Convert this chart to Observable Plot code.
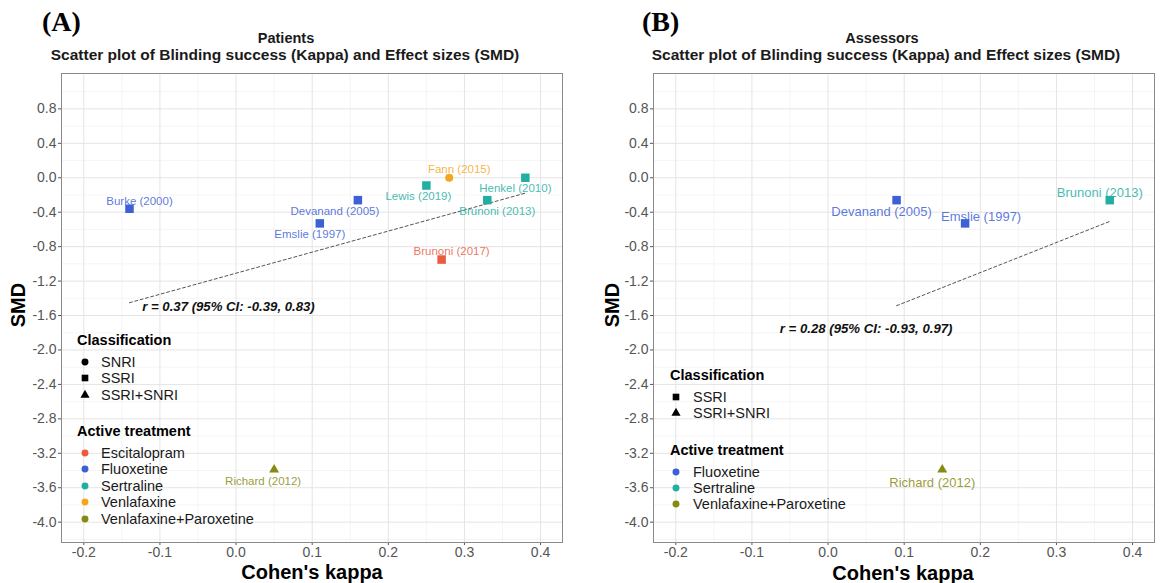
<!DOCTYPE html>
<html>
<head>
<meta charset="utf-8">
<script src="https://cdn.jsdelivr.net/npm/d3@7"></script>
<script src="https://cdn.jsdelivr.net/npm/@observablehq/plot@0.6"></script>
<style>
  body { margin: 0; background: #fff; font-family: "Liberation Sans", Arial, sans-serif; }
  #root { position: relative; width: 1171px; height: 583px; overflow: hidden; background: #fff; }
  .abs { position: absolute; white-space: nowrap; }
  .panelTag { font-family: "Liberation Serif", "Times New Roman", serif; font-weight: bold; font-size: 28px; line-height: 28px; color: #000; }
  .ttl { font-weight: bold; font-size: 14.5px; line-height: 16px; color: #1a1a1a; transform: translateX(-50%); }
  .sub { font-weight: bold; font-size: 15.5px; line-height: 16px; color: #1a1a1a; transform: translateX(-50%); }
  .axTitle { font-weight: bold; font-size: 20px; line-height: 22px; color: #000; transform: translate(-50%, -50%); }
  .axTitleY { font-weight: bold; font-size: 20px; line-height: 22px; color: #000; transform: translate(-50%, -50%) rotate(-90deg); }
  .lgTitle { font-weight: bold; font-size: 14.5px; line-height: 16px; color: #000; }
  .lgItem { font-size: 14.5px; line-height: 16px; color: #1a1a1a; }
</style>
</head>
<body>
<div id="root"></div>
<script>
// ---------------- data ----------------
const treatments = ["Escitalopram", "Fluoxetine", "Sertraline", "Venlafaxine", "Venlafaxine+Paroxetine"];
const treatmentColors = ["#EC5B3F", "#3D60D6", "#22AFA2", "#F6A61E", "#878A10"];
const classes = ["SNRI", "SSRI", "SSRI+SNRI"];

// Panel A: patients
const patientStudy = ["Burke (2000)", "Devanand (2005)", "Emslie (1997)", "Lewis (2019)", "Fann (2015)", "Henkel (2010)", "Brunoni (2013)", "Brunoni (2017)", "Richard (2012)"];
const patientKappa = [-0.14, 0.16, 0.11, 0.25, 0.28, 0.38, 0.33, 0.27, 0.05];
const patientSMD = [-0.36, -0.26, -0.53, -0.09, 0.00, 0.00, -0.26, -0.95, -3.39];
const patientTreatment = ["Fluoxetine", "Fluoxetine", "Fluoxetine", "Sertraline", "Venlafaxine", "Sertraline", "Sertraline", "Escitalopram", "Venlafaxine+Paroxetine"];
const patientClass = ["SSRI", "SSRI", "SSRI", "SSRI", "SNRI", "SSRI", "SSRI", "SSRI", "SSRI+SNRI"];

// Panel B: assessors
const assessorStudy = ["Devanand (2005)", "Emslie (1997)", "Brunoni (2013)", "Richard (2012)"];
const assessorKappa = [0.09, 0.18, 0.37, 0.15];
const assessorSMD = [-0.26, -0.53, -0.26, -3.39];
const assessorTreatment = ["Fluoxetine", "Fluoxetine", "Sertraline", "Venlafaxine+Paroxetine"];
const assessorClass = ["SSRI", "SSRI", "SSRI", "SSRI+SNRI"];

// correlation annotations (text + data-space anchor)
const corrText = ["r = 0.37 (95% CI: -0.39, 0.83)", "r = 0.28 (95% CI: -0.93, 0.97)"];
const corrKappa = [-0.01, 0.05];
const corrSMD = [-1.50, -1.75];

// axis ticks
const xTicks = [-0.2, -0.1, 0.0, 0.1, 0.2, 0.3, 0.4];
const xMinor = [-0.15, -0.05, 0.05, 0.15, 0.25, 0.35];
const yTicks = [0.8, 0.4, 0.0, -0.4, -0.8, -1.2, -1.6, -2.0, -2.4, -2.8, -3.2, -3.6, -4.0];
const yMinor = [1.0, 0.6, 0.2, -0.2, -0.6, -1.0, -1.4, -1.8, -2.2, -2.6, -3.0, -3.4, -3.8, -4.2];

// ---------------- layout / style config ----------------
const FONT = '"Liberation Sans", Arial, sans-serif';
const shapeOf = { "SNRI": ["circle", 4], "SSRI": ["square", 4.8], "SSRI+SNRI": ["triangle", 3.7] };
// label nudges in pixels (like ggrepel placement)
const nudgeA = {
  "Burke (2000)": [10, -7], "Devanand (2005)": [-23, 11], "Emslie (1997)": [-10, 11],
  "Lewis (2019)": [-8, 11], "Fann (2015)": [10, -8], "Henkel (2010)": [-10, 11],
  "Brunoni (2013)": [10, 11], "Brunoni (2017)": [10, -8], "Richard (2012)": [-11, 12]
};
const nudgeB = {
  "Devanand (2005)": [-15, 12], "Emslie (1997)": [16, -7], "Brunoni (2013)": [-10, -7], "Richard (2012)": [-10, 13]
};

function rowsOf(study, kappa, smd, trt, cls) {
  return study.map((s, i) => ({ study: s, kappa: kappa[i], smd: smd[i], treatment: trt[i], cls: cls[i] }));
}
const rowsA = rowsOf(patientStudy, patientKappa, patientSMD, patientTreatment, patientClass);
const rowsB = rowsOf(assessorStudy, assessorKappa, assessorSMD, assessorTreatment, assessorClass);

const fmt = d => d.toFixed(1);

function panel(rows, nudge, ann, width, marginRight, labelSize) {
  return Plot.plot({
    width, height: 583,
    marginTop: 73, marginBottom: 41, marginLeft: 61, marginRight,
    style: { fontFamily: FONT, background: "transparent", overflow: "visible" },
    x: { domain: [-0.2293, 0.4288] },
    y: { domain: [-4.236, 1.211] },
    color: { domain: treatments, range: treatmentColors },
    marks: [
      Plot.gridX(xMinor, { stroke: "#F1F1F1", strokeOpacity: 1, strokeWidth: 0.7 }),
      Plot.gridY(yMinor, { stroke: "#F1F1F1", strokeOpacity: 1, strokeWidth: 0.7 }),
      Plot.gridX(xTicks, { stroke: "#E4E4E4", strokeOpacity: 1, strokeWidth: 1 }),
      Plot.gridY(yTicks, { stroke: "#E4E4E4", strokeOpacity: 1, strokeWidth: 1 }),
      Plot.linearRegressionY(rows, { x: "kappa", y: "smd", ci: 0, stroke: "#555", strokeWidth: 1, strokeDasharray: "3,2.5" }),
      ...classes.map(c => Plot.dot(rows.filter(d => d.cls === c), {
        x: "kappa", y: "smd", fill: "treatment", symbol: shapeOf[c][0], r: shapeOf[c][1]
      })),
      ...rows.map(d => Plot.text([d], {
        x: "kappa", y: "smd", text: "study", fill: "treatment", fillOpacity: 0.85,
        fontSize: labelSize, dx: nudge[d.study][0], dy: nudge[d.study][1]
      })),
      Plot.text([ann], { x: "x", y: "y", text: "t", fontSize: 13.2, fontWeight: "bold", fontStyle: "italic", fill: "#111" }),
      Plot.axisX(xTicks, { tickFormat: fmt, tickSize: 3, tickPadding: 2, fontSize: 14, color: "#555", label: null }),
      Plot.axisY(yTicks, { tickFormat: fmt, tickSize: 3, tickPadding: 2, fontSize: 14, color: "#555", label: null }),
      Plot.frame({ stroke: "#8a8a8a" })
    ]
  });
}

const root = document.getElementById("root");
function addDiv(cls, text, left, top) {
  const d = document.createElement("div");
  d.className = "abs " + cls;
  d.textContent = text;
  d.style.left = left + "px";
  d.style.top = top + "px";
  root.appendChild(d);
  return d;
}

function symbolSvg(shape, color) {
  const ns = "http://www.w3.org/2000/svg";
  const s = document.createElementNS(ns, "svg");
  s.setAttribute("width", 12); s.setAttribute("height", 12);
  s.style.position = "absolute";
  const p = document.createElementNS(ns, "path");
  const sym = shape === "circle" ? d3.symbolCircle : shape === "square" ? d3.symbolSquare : d3.symbolTriangle;
  const size = shape === "circle" ? 38 : shape === "square" ? 44 : 36;
  p.setAttribute("d", d3.symbol(sym, size)());
  p.setAttribute("transform", "translate(6,6)");
  p.setAttribute("fill", color);
  s.appendChild(p);
  return s;
}

function legend(rows, titleX, symX, textX, classTop, trtTop, step) {
  addDiv("lgTitle", "Classification", titleX, classTop - 8);
  const cl = classes.filter(c => rows.some(d => d.cls === c));
  cl.forEach((c, i) => {
    const cy = classTop + 22 + i * step;
    const s = symbolSvg(shapeOf[c][0], "#000");
    s.style.left = (symX - 6) + "px"; s.style.top = (cy - 6) + "px";
    root.appendChild(s);
    addDiv("lgItem", c, textX, cy - 8);
  });
  addDiv("lgTitle", "Active treatment", titleX, trtTop - 8);
  const tr = treatments.filter(t => rows.some(d => d.treatment === t));
  tr.forEach((t, i) => {
    const cy = trtTop + 22 + i * step;
    const s = symbolSvg("circle", treatmentColors[treatments.indexOf(t)]);
    s.style.left = (symX - 6) + "px"; s.style.top = (cy - 6) + "px";
    root.appendChild(s);
    addDiv("lgItem", t, textX, cy - 8);
  });
}

// Panel A
const svgA = panel(rowsA, nudgeA, { x: corrKappa[0], y: corrSMD[0], t: corrText[0] }, 585, 23, 11.5);
svgA.style.position = "absolute"; svgA.style.left = "0px"; svgA.style.top = "0px";
root.appendChild(svgA);
// Panel B
const svgB = panel(rowsB, nudgeB, { x: corrKappa[1], y: corrSMD[1], t: corrText[1] }, 579, 17, 13);
svgB.style.position = "absolute"; svgB.style.left = "592px"; svgB.style.top = "0px";
root.appendChild(svgB);

// titles
addDiv("panelTag", "(A)", 42, 8);
addDiv("panelTag", "(B)", 642, 8);
addDiv("ttl", "Patients", 286, 30);
addDiv("sub", "Scatter plot of Blinding success (Kappa) and Effect sizes (SMD)", 285, 47);
addDiv("ttl", "Assessors", 882, 30);
addDiv("sub", "Scatter plot of Blinding success (Kappa) and Effect sizes (SMD)", 886, 47);
addDiv("axTitle", "Cohen's kappa", 312, 572);
addDiv("axTitle", "Cohen's kappa", 903, 573);
addDiv("axTitleY", "SMD", 18, 305);
addDiv("axTitleY", "SMD", 612, 305);

// legends
legend(rowsA, 77, 85, 101, 340, 431, 16.4);
legend(rowsB, 670, 676, 693, 375, 450, 16.2);
</script>
</body>
</html>
